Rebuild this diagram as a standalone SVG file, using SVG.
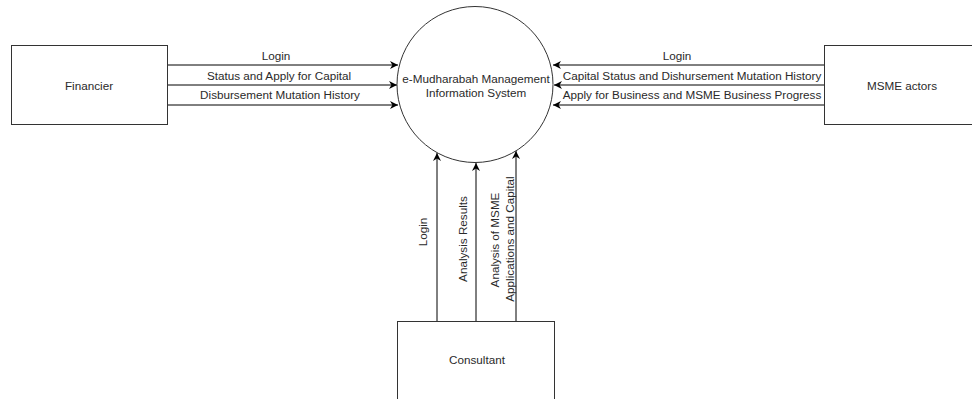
<svg xmlns="http://www.w3.org/2000/svg" width="972" height="399" viewBox="0 0 972 399">
<defs>
<marker id="arr" viewBox="0 0 10 10" refX="10" refY="5" markerWidth="8" markerHeight="8" markerUnits="userSpaceOnUse" orient="auto">
<path d="M0,0 L10,5 L0,10 L3,5 z" fill="#000"/>
</marker>
<style>
.box{fill:#fff;stroke:#333;stroke-width:1}
.lbl{font-family:"Liberation Sans",Arial,sans-serif;font-size:11.7px;fill:#2a2a2a;text-anchor:middle;dominant-baseline:central}
.ln{stroke:#000;stroke-width:1;fill:none;marker-end:url(#arr)}
</style>
</defs>
<rect width="972" height="399" fill="#fff"/>
<g id="connectors">
<line class="ln" x1="167" y1="65" x2="398" y2="65"/>
<line class="ln" x1="167" y1="85" x2="397" y2="85"/>
<line class="ln" x1="167" y1="105" x2="398" y2="105"/>
<line class="ln" x1="824" y1="65" x2="553" y2="65"/>
<line class="ln" x1="824" y1="85" x2="554" y2="85"/>
<line class="ln" x1="824" y1="105" x2="553" y2="105"/>
<line class="ln" x1="437" y1="321" x2="437" y2="153"/>
<line class="ln" x1="476" y1="321" x2="476" y2="163"/>
<line class="ln" x1="516" y1="321" x2="516" y2="151"/>
<text class="lbl" x="276" y="55">Login</text>
<text class="lbl" x="279" y="75">Status and Apply for Capital</text>
<text class="lbl" x="280" y="94">Disbursement Mutation History</text>
<text class="lbl" x="677" y="55">Login</text>
<text class="lbl" x="692" y="75">Capital Status and Dishursement Mutation History</text>
<text class="lbl" x="692" y="94">Apply for Business and MSME Business Progress</text>
<text class="lbl" transform="translate(422,232) rotate(-90)">Login</text>
<text class="lbl" transform="translate(462,239) rotate(-90)">Analysis Results</text>
<text class="lbl" transform="translate(494,240) rotate(-90)">Analysis of MSME</text>
<text class="lbl" transform="translate(509,239) rotate(-90)">Applications and Capital</text>
</g>
<g id="financier">
<rect class="box" x="11.5" y="45.5" width="156" height="79"/>
<text class="lbl" x="89" y="85">Financier</text>
</g>
<g id="system">
<circle cx="475" cy="84.5" r="78" fill="#fff" stroke="#333"/>
<text class="lbl" x="476" y="78">e-Mudharabah Management</text>
<text class="lbl" x="476" y="92">Information System</text>
</g>
<g id="msme">
<rect class="box" x="824.5" y="45.5" width="156" height="79"/>
<text class="lbl" x="902" y="85">MSME actors</text>
</g>
<g id="consultant">
<rect class="box" x="397.5" y="321.5" width="157" height="79"/>
<text class="lbl" x="477" y="359">Consultant</text>
</g>
</svg>
